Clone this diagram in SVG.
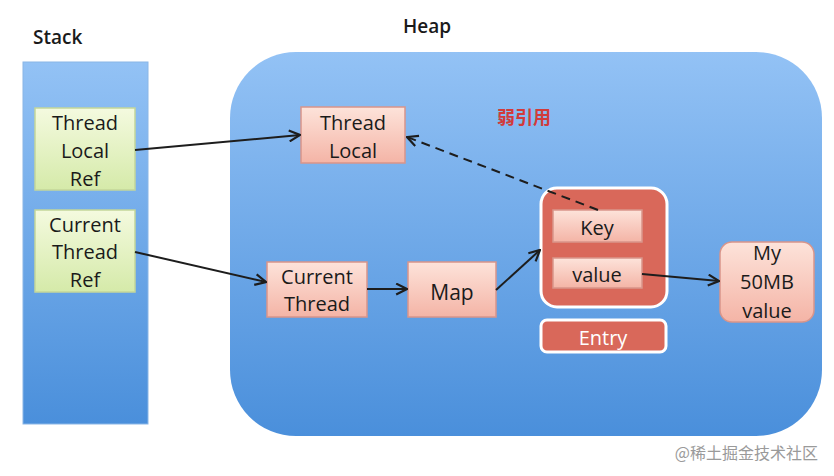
<svg xmlns="http://www.w3.org/2000/svg" width="834" height="476" viewBox="0 0 834 476">
<defs>
<linearGradient id="blue" x1="0" y1="0" x2="0" y2="1"><stop offset="0" stop-color="#93c2f5"/><stop offset="1" stop-color="#4a8fdb"/></linearGradient>
<linearGradient id="green" x1="0" y1="0" x2="0" y2="1"><stop offset="0" stop-color="#f4fadf"/><stop offset="1" stop-color="#d5eaa9"/></linearGradient>
<linearGradient id="pink" x1="0" y1="0" x2="0" y2="1"><stop offset="0" stop-color="#fde3da"/><stop offset="1" stop-color="#f4b4a6"/></linearGradient>
<marker id="arr" viewBox="0 0 12 12" refX="11" refY="6" markerWidth="13" markerHeight="13" markerUnits="userSpaceOnUse" orient="auto"><path d="M1,1 L11,6 L1,11" fill="none" stroke="#1d1d1d" stroke-width="2"/></marker>
</defs>
<style>
.t{font-family:"Open Sans","Noto Sans",sans-serif;font-size:20px;font-weight:500;fill:#1a1a1a;text-anchor:middle}
.lbl{font-family:"Open Sans","Noto Sans",sans-serif;font-size:19px;font-weight:600;fill:#1a1a1a}
.gbox{fill:url(#green);stroke:#c3d69a;stroke-width:1.5}
.pbox{fill:url(#pink);stroke:#d9958a;stroke-width:1.5}
.c{fill:none;stroke:#1d1d1d;stroke-width:2;marker-end:url(#arr)}
</style>
<rect width="834" height="476" fill="#ffffff"/>
<text class="lbl" x="33" y="44">Stack</text>
<text class="lbl" x="403" y="33">Heap</text>
<g id="stack"><rect x="23" y="62" width="125" height="362" fill="url(#blue)" stroke="#8ab6e6" stroke-width="1"/></g>
<g id="heap"><rect x="230" y="52" width="592" height="384" rx="66" ry="66" fill="url(#blue)"/></g>
<g id="threadLocalRef"><rect class="gbox" x="35" y="108" width="100" height="82"/>
<text class="t" x="85" y="130">Thread</text><text class="t" x="85" y="158">Local</text><text class="t" x="85" y="186">Ref</text></g>
<g id="currentThreadRef"><rect class="gbox" x="35" y="210" width="100" height="82"/>
<text class="t" x="85" y="232">Current</text><text class="t" x="85" y="259">Thread</text><text class="t" x="85" y="287">Ref</text></g>
<g id="threadLocal"><rect class="pbox" x="301" y="107" width="104" height="56"/>
<text class="t" x="353" y="130">Thread</text><text class="t" x="353" y="158">Local</text></g>
<g id="currentThread"><rect class="pbox" x="267" y="262" width="100" height="55"/>
<text class="t" x="317" y="284">Current</text><text class="t" x="317" y="311">Thread</text></g>
<g id="map"><rect class="pbox" x="408" y="262" width="88" height="55"/>
<text class="t" x="452" y="300" style="font-size:21px">Map</text></g>
<g id="entry"><rect x="541" y="188" width="126" height="119" rx="16" ry="16" fill="#d9685a" stroke="#ffffff" stroke-width="3"/>
<rect class="pbox" x="553" y="210" width="89" height="32"/>
<text class="t" x="597" y="235">Key</text>
<rect class="pbox" x="553" y="258" width="89" height="30"/>
<text class="t" x="597" y="282">value</text></g>
<g id="entryLabel"><rect x="541" y="320" width="125" height="32" rx="6" ry="6" fill="#d9685a" stroke="#ffffff" stroke-width="3"/>
<text class="t" x="603" y="345" style="fill:#ffffff">Entry</text></g>
<g id="myValue"><rect class="pbox" x="720" y="242" width="94" height="80" rx="12" ry="12"/>
<text class="t" x="767" y="260">My</text><text class="t" x="767" y="289">50MB</text><text class="t" x="767" y="318">value</text></g>
<text x="497" y="124" font-family="'Noto Sans CJK SC',sans-serif" font-size="18" font-weight="bold" fill="#d23a3a">弱引用</text>
<g id="connectors">
<line class="c" x1="135" y1="150" x2="300" y2="135"/>
<line class="c" x1="135" y1="252" x2="266" y2="282"/>
<line class="c" x1="367" y1="289" x2="407" y2="289"/>
<line class="c" x1="496" y1="290" x2="540" y2="250"/>
<line class="c" x1="642" y1="274" x2="719" y2="281"/>
<line class="c" x1="598" y1="210" x2="407" y2="137" stroke-dasharray="9,6"/>
</g>
<text x="818" y="459" text-anchor="end" font-family="'Noto Sans CJK SC',sans-serif" font-size="16" fill="#9a9a9a">@稀土掘金技术社区</text>
</svg>
